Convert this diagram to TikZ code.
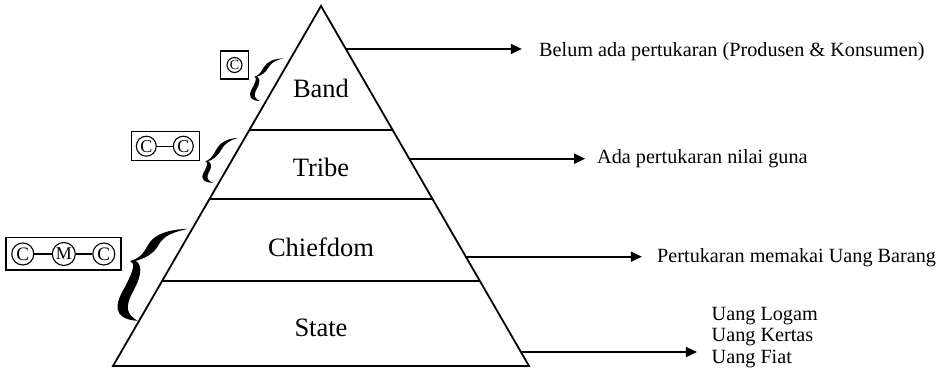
\documentclass[tikz,border=0pt]{standalone}
\usepackage{fontspec}
\setmainfont{Liberation Serif}
\usetikzlibrary{arrows.meta,calc}

% Calligraphic curly brace, slanted along the pyramid side.
% #1,#2: tip of the middle nub; #3: total height; #4: share of the height above the nub
\newcommand{\slantbrace}[4]{%
  \begin{scope}[shift={(#1,#2)}, xslant=0.55, scale=#3]
    \pgfmathsetmacro\braceTop{#4}
    \pgfmathsetmacro\braceBot{1-#4}
    \fill (0.44,-\braceTop)
      .. controls (0.24,{-0.98*\braceTop}) and (0.1,{-0.85*\braceTop}) .. (0.1,{-0.5*\braceTop})
      .. controls (0.1,{-0.15*\braceTop}) and (0.07,-0.02) .. (0,0)
      .. controls (0.07,0.02) and (0.1,{0.15*\braceBot}) .. (0.1,{0.5*\braceBot})
      .. controls (0.1,{0.85*\braceBot}) and (0.24,{0.98*\braceBot}) .. (0.44,\braceBot)
      .. controls (0.3,{0.9*\braceBot}) and (0.215,{0.8*\braceBot}) .. (0.215,{0.5*\braceBot})
      .. controls (0.215,{0.2*\braceBot}) and (0.14,0.03) .. (0.06,0)
      .. controls (0.14,-0.03) and (0.215,{-0.2*\braceTop}) .. (0.215,{-0.5*\braceTop})
      .. controls (0.215,{-0.8*\braceTop}) and (0.3,{-0.9*\braceTop}) .. (0.44,-\braceTop)
      -- cycle;
  \end{scope}}

\begin{document}
\begin{tikzpicture}[x=1pt,y=-1pt,
  edge/.style={line width=1.8pt, line join=miter},
  pointer/.style={line width=1.6pt, -{Triangle[length=11pt,width=10pt]}},
  tier/.style={font=\fontsize{26.5}{30}\selectfont, anchor=base, inner sep=0pt},
  note/.style={font=\fontsize{20.2}{22}\selectfont, anchor=base west, inner sep=0pt},
  coin/.style={circle, draw, line width=1.1pt, inner sep=0pt},
  frame/.style={draw, line width=1.2pt, inner sep=0pt},
  link/.style={line width=1.1pt}]

\useasboundingbox (0,0) rectangle (945,369);

% pyramid outline
\coordinate (apex) at (321,6);
\coordinate (bl) at (113,366);
\coordinate (br) at (529,366);
\draw[edge] (bl) -- (apex) -- (br) -- cycle;

% tier dividers
\coordinate (d1l) at ($(apex)!0.3444!(bl)$);
\coordinate (d1r) at ($(apex)!0.3444!(br)$);
\coordinate (d2l) at ($(apex)!0.5353!(bl)$);
\coordinate (d2r) at ($(apex)!0.5353!(br)$);
\coordinate (d3l) at ($(apex)!0.7631!(bl)$);
\coordinate (d3r) at ($(apex)!0.7631!(br)$);
\draw[edge] (d1l) -- (d1r);
\draw[edge] (d2l) -- (d2r);
\draw[edge] (d3l) -- (d3r);

% tier names
\node[tier] (band) at (321,97) {Band};
\node[tier] (tribe) at (321,176) {Tribe};
\node[tier] (chief) at (321,256) {Chiefdom};
\node[tier] (state) at (321,336.7) {State};

% pointers from the right side
\coordinate (e1) at ($(apex)!0.1194!(br)$);
\coordinate (e2) at ($(apex)!0.4242!(br)$);
\coordinate (e3) at ($(apex)!0.6964!(br)$);
\coordinate (e4) at ($(apex)!0.9611!(br)$);
\coordinate (t1) at ($(e1)+(176,0)$);
\coordinate (t2) at ($(e2)+(176,0)$);
\coordinate (t3) at ($(e3)+(176,0)$);
\coordinate (t4) at ($(e4)+(176,0)$);
\draw[pointer] (e1) -- (t1);
\draw[pointer] (e2) -- (t2);
\draw[pointer] (e3) -- (t3);
\draw[pointer] (e4) -- (t4);

\node[note] (n1) at (539,56.7) {Belum ada pertukaran (Produsen \& Konsumen)};
\node[note] (n2) at (597,163.3) {Ada pertukaran nilai guna};
\node[note] (n3) at (657,262) {Pertukaran memakai Uang Barang};
\node[note] (n4a) at (711.5,320) {Uang Logam};
\node[note] (n4b) at (711.5,341.7) {Uang Kertas};
\node[note] (n4c) at (711.5,363.3) {Uang Fiat};

% exchange schemes on the left
\node[frame, minimum width=28pt, minimum height=28pt] (box1) at (234.5,65) {};
\node[coin, minimum size=15pt, font=\fontsize{14}{14}\selectfont] (k1) at (234.5,65) {C};

\node[frame, minimum width=67.6pt, minimum height=29pt] (box2) at (165.5,146.2) {};
\node[coin, minimum size=20pt, font=\fontsize{18}{18}\selectfont] (k2a) at (146.3,146.2) {C};
\node[coin, minimum size=20pt, font=\fontsize{18}{18}\selectfont] (k2b) at (183.3,146.2) {C};
\draw[link] (k2a) -- (k2b);

\node[frame, minimum width=115pt, minimum height=32.3pt] (box3) at (63.5,253.9) {};
\node[coin, minimum size=22pt, font=\fontsize{19}{19}\selectfont] (k3a) at (22.8,254) {C};
\node[coin, minimum size=23pt, font=\fontsize{18}{18}\selectfont] (k3m) at (63.8,254) {M};
\node[coin, minimum size=22pt, font=\fontsize{19}{19}\selectfont] (k3b) at (103.8,254) {C};
\draw[link] (k3a) -- (k3m);
\draw[link] (k3m) -- (k3b);

% braces along the left side
\slantbrace{254.3}{76.7}{42.7}{0.43}
\slantbrace{205.3}{161.3}{45}{0.52}
\slantbrace{130}{261}{92}{0.35}

\end{tikzpicture}
\end{document}
